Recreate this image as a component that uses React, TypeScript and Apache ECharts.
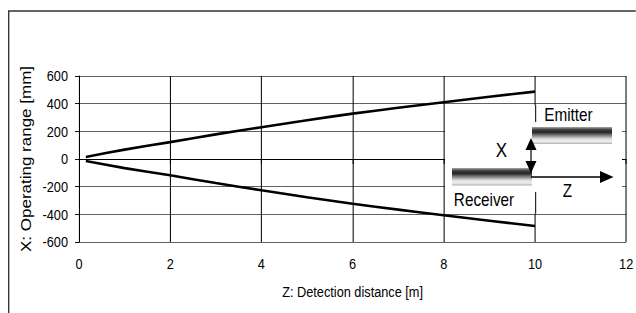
import React, { useEffect, useRef } from "react";
import * as echarts from "echarts";

// Horizontal squeeze of the original picture (text looks condensed)
const SX = 0.85;
const W = 636 / SX;
const H = 313;
const X = (v: number) => v / SX;

// Data
const xTickValues = [0, 2, 4, 6, 8, 10, 12];
const yTickValues = [-600, -400, -200, 0, 200, 400, 600];
const distances = [0.15, 1, 2, 3, 4, 5, 6, 7, 8, 9, 10];
const upperRange = [15, 68, 122, 178, 230, 280, 328, 370, 410, 450, 487];
const lowerRange = [-15, -66, -118, -174, -226, -276, -323, -366, -407, -446, -484];

const FONT = "'Liberation Sans', Arial, sans-serif";

export default function App() {
  const ref = useRef<HTMLDivElement>(null);
  useEffect(() => {
    if (!ref.current) return;
    const chart = echarts.init(ref.current, null, { renderer: "svg" });
    const barGradient = () =>
      new echarts.graphic.LinearGradient(0, 0, 0, 1, [
        { offset: 0, color: "#a8a8a8" },
        { offset: 0.15, color: "#444" },
        { offset: 0.3, color: "#222" },
        { offset: 0.5, color: "#808080" },
        { offset: 0.7, color: "#dedede" },
        { offset: 0.85, color: "#efefef" },
        { offset: 1, color: "#b0b0b0" },
      ]);
    const xMin = xTickValues[0];
    const xMax = xTickValues[xTickValues.length - 1];
    const yMin = yTickValues[0];
    const yMax = yTickValues[yTickValues.length - 1];
    const x10 = 79 + (548 * 10) / 12;
    chart.setOption({
      animation: false,
      backgroundColor: "#fff",
      grid: { left: X(79), right: X(9), top: 76, bottom: 71, containLabel: false },
      xAxis: {
        type: "value",
        min: xMin,
        max: xMax,
        interval: xTickValues[1] - xTickValues[0],
        name: "Z: Detection distance [m]",
        nameLocation: "middle",
        nameGap: 42,
        nameTextStyle: { fontSize: 15, color: "#000", fontFamily: FONT },
        axisLine: { show: true, lineStyle: { color: "#000", width: 1.2 } },
        axisTick: { show: true, length: 5, lineStyle: { color: "#000", width: 1.2 } },
        axisLabel: { fontSize: 15, color: "#000", fontFamily: FONT, margin: 14 },
        splitLine: { show: true, lineStyle: { color: "#000", width: 1.2 } },
      },
      yAxis: {
        type: "value",
        min: yMin,
        max: yMax,
        interval: yTickValues[1] - yTickValues[0],
        name: "X: Operating range [mm]",
        nameLocation: "middle",
        nameGap: 46,
        nameTextStyle: { fontSize: 17, color: "#000", fontFamily: FONT },
        axisLine: { show: true, lineStyle: { color: "#000", width: 1.2 } },
        axisTick: { show: true, length: X(4), lineStyle: { color: "#000" } },
        axisLabel: { fontSize: 15, color: "#000", fontFamily: FONT, margin: X(11) },
        splitLine: { show: true, lineStyle: { color: "#555", width: 1 } },
      },
      series: [
        {
          type: "line",
          data: distances.map((d, i) => [d, upperRange[i]]),
          symbol: "none",
          smooth: 0.2,
          lineStyle: { color: "#000", width: 2.6 },
        },
        {
          type: "line",
          data: distances.map((d, i) => [d, lowerRange[i]]),
          symbol: "none",
          smooth: 0.2,
          lineStyle: { color: "#000", width: 2.6 },
        },
      ],
      graphic: [
        {
          type: "rect",
          z: 100,
          shape: { x: X(8.7), y: 11, width: X(700), height: 400 },
          style: { fill: "none", stroke: "#333", lineWidth: 1.6 },
        },
        {
          type: "rect",
          z: 100,
          shape: { x: X(445), y: 105, width: X(622 - 445), height: 108.5 },
          style: { fill: "#fff" },
        },
        {
          type: "line",
          z: 101,
          shape: { x1: X(x10), y1: 105, x2: X(x10), y2: 122 },
          style: { stroke: "#000", lineWidth: 1.2 },
        },
        {
          type: "line",
          z: 101,
          shape: { x1: X(x10), y1: 192, x2: X(x10), y2: 213.5 },
          style: { stroke: "#000", lineWidth: 1.2 },
        },
        {
          type: "rect",
          z: 101,
          shape: { x: X(532), y: 127, width: X(80), height: 17 },
          style: { fill: barGradient() },
        },
        {
          type: "rect",
          z: 101,
          shape: { x: X(452), y: 168, width: X(80), height: 17.5 },
          style: { fill: barGradient() },
        },
        {
          type: "line",
          z: 102,
          shape: { x1: X(531), y1: 146, x2: X(531), y2: 166 },
          style: { stroke: "#000", lineWidth: 1.4 },
        },
        {
          type: "polygon",
          z: 102,
          shape: { points: [[X(531), 138], [X(525.5), 150], [X(536.5), 150]] },
          style: { fill: "#000" },
        },
        {
          type: "polygon",
          z: 102,
          shape: { points: [[X(531), 173], [X(525.5), 161], [X(536.5), 161]] },
          style: { fill: "#000" },
        },
        {
          type: "line",
          z: 102,
          shape: { x1: X(531), y1: 177, x2: X(602), y2: 177 },
          style: { stroke: "#000", lineWidth: 1.4 },
        },
        {
          type: "polygon",
          z: 102,
          shape: { points: [[X(613.5), 177], [X(600), 171], [X(600), 183]] },
          style: { fill: "#000" },
        },
        {
          type: "text",
          z: 103,
          x: X(568.5),
          y: 115,
          style: { text: "Emitter", fontSize: 18, fontFamily: FONT, fill: "#000", align: "center", verticalAlign: "middle" },
        },
        {
          type: "text",
          z: 103,
          x: X(484),
          y: 200,
          style: { text: "Receiver", fontSize: 18, fontFamily: FONT, fill: "#000", align: "center", verticalAlign: "middle" },
        },
        {
          type: "text",
          z: 103,
          x: X(501.5),
          y: 150,
          style: { text: "X", fontSize: 20, fontFamily: FONT, fill: "#000", align: "center", verticalAlign: "middle" },
        },
        {
          type: "text",
          z: 103,
          x: X(567.5),
          y: 191,
          style: { text: "Z", fontSize: 18, fontFamily: FONT, fill: "#000", align: "center", verticalAlign: "middle" },
        },
      ],
    });
    return () => chart.dispose();
  }, []);
  return (
    <div
      style={{
        position: "fixed",
        left: 0,
        top: 0,
        width: 636,
        height: 313,
        overflow: "hidden",
        background: "#fff",
      }}
    >
      <div
        ref={ref}
        style={{ width: W, height: H, transform: `scaleX(${SX})`, transformOrigin: "0 0" }}
      />
    </div>
  );
}
